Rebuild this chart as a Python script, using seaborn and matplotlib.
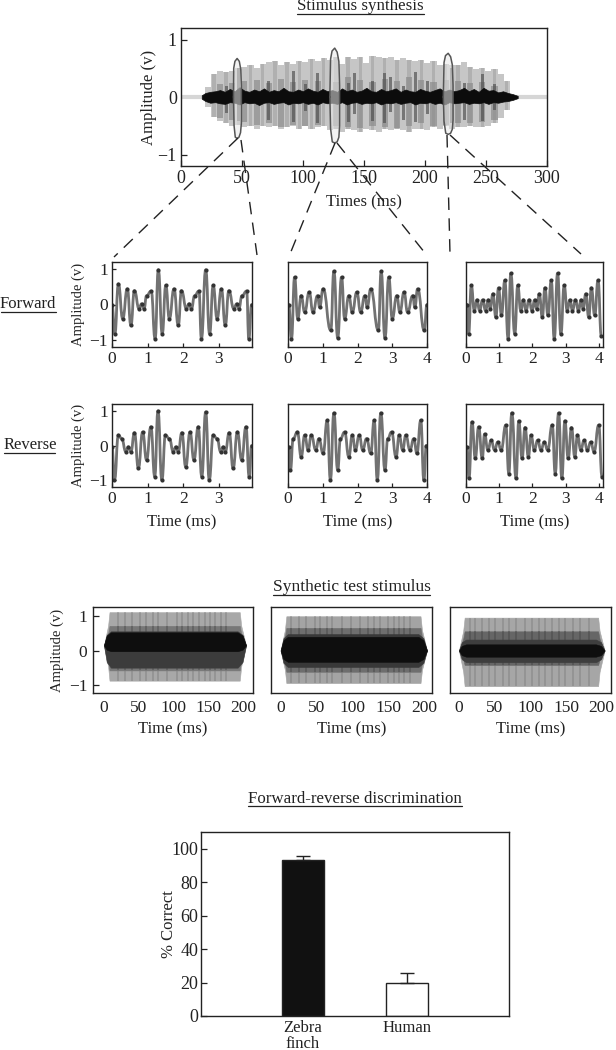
import matplotlib
matplotlib.use("Agg")
import matplotlib.pyplot as plt
from matplotlib.lines import Line2D
from matplotlib.patches import PathPatch
from matplotlib.path import Path
import seaborn as sns
import pandas as pd

sns.set_theme(style="white")
plt.rcParams['font.family'] = ['Liberation Serif', 'DejaVu Serif']
W, H = 616, 1050
INK = '#222222'

# ---- data: top recording (bars of the dense waveform, read at 5 ms steps)
top_t = [22,27,32,37,42,47,52,57,62,67,72,77,82,87,92,97,102,107,112,117,122,127,132,137,142,147,152,157,162,167,172,177,182,187,192,197,202,207,212,217,222,227,232,237,242,247,252,257,262,267]
top_up = [.18,.40,.45,.44,.46,.50,.52,.55,.50,.58,.60,.62,.55,.60,.58,.62,.60,.66,.62,.68,.65,.70,.58,.70,.66,.70,.60,.72,.70,.68,.70,.64,.68,.65,.62,.64,.60,.62,.56,.58,.56,.55,.60,.52,.48,.50,.46,.48,.40,.28]
top_lo = [-.18,-.35,-.42,-.45,-.50,-.48,-.52,-.50,-.55,-.50,-.52,-.50,-.55,-.52,-.50,-.55,-.50,-.55,-.52,-.50,-.58,-.55,-.60,-.55,-.58,-.60,-.56,-.58,-.60,-.56,-.58,-.55,-.58,-.60,-.56,-.55,-.58,-.52,-.55,-.50,-.55,-.52,-.52,-.50,-.52,-.52,-.50,-.46,-.36,-.22]
top_mid_t = [32,42,52,62,72,82,92,102,112,127,137,147,157,167,177,187,197,207,217,227,237,247,257]
top_mid_up = [.22,.24,.28,.30,.24,.32,.26,.30,.28,.26,.34,.30,.26,.32,.28,.34,.30,.26,.30,.28,.24,.26,.20]
top_mid_lo = [-.36,-.40,-.44,-.48,-.46,-.52,-.48,-.50,-.48,-.50,-.52,-.54,-.50,-.52,-.54,-.50,-.46,-.50,-.48,-.46,-.46,-.44,-.40]
top_in_t = [37,47,72,92,102,112,137,142,157,167,172,182,192,202,222,232,247,257]
top_in_up = [.20,.50,.28,.46,.22,.42,.25,.42,.28,.42,.34,.20,.44,.28,.50,.24,.40,.22]
top_in_lo = [-.28,-.42,-.40,-.44,-.24,-.46,-.44,-.30,-.42,-.46,-.26,-.40,-.44,-.30,-.46,-.40,-.42,-.22]
core_t = [17,20,24,28,32,36,40,44,48,52,56,60,64,68,72,76,80,84,88,92,96,100,104,108,112,116,120,124,128,132,136,140,144,148,152,156,160,164,168,172,176,180,184,188,192,196,200,204,208,212,216,220,224,228,232,236,240,244,248,252,256,260,264,268,272,276]
core_up = [.03,.07,.09,.10,.12,.09,.14,.10,.17,.11,.09,.13,.10,.15,.09,.12,.10,.16,.10,.09,.13,.10,.15,.11,.09,.14,.10,.12,.09,.15,.10,.13,.09,.11,.16,.10,.09,.14,.10,.12,.15,.09,.13,.10,.09,.14,.11,.09,.12,.15,.10,.13,.10,.12,.16,.10,.14,.09,.16,.11,.12,.08,.10,.07,.05,.02]
core_lo = [-.03,-.07,-.10,-.09,-.11,-.12,-.09,-.10,-.13,-.09,-.11,-.10,-.14,-.10,-.09,-.12,-.10,-.09,-.13,-.10,-.11,-.09,-.12,-.10,-.13,-.09,-.11,-.10,-.12,-.09,-.13,-.10,-.09,-.12,-.10,-.11,-.09,-.13,-.10,-.11,-.09,-.12,-.10,-.09,-.13,-.10,-.11,-.09,-.12,-.10,-.13,-.09,-.11,-.10,-.09,-.12,-.10,-.11,-.09,-.12,-.09,-.10,-.08,-.07,-.05,-.02]
baseline_t = [0, 300]
baseline_v = [0, 0]
loops_t = [[43,43.2,44.2,46,47.8,49,49.5,49.5,48.8,47.5,46,44.5,43.5,43],
           [122,122.6,123.8,126,128,129.4,130,130,129.4,128,126,124,122.6,122],
           [215,215.6,216.8,219,221,222.4,223,223,222.4,221,219,217,215.6,215]]
loops_v = [[0,.50,.62,.67,.62,.48,.2,-.45,-.62,-.70,-.72,-.70,-.50,0],
           [0,.66,.80,.85,.78,.62,.2,-.50,-.70,-.78,-.80,-.78,-.55,0],
           [0,.60,.72,.76,.70,.56,.2,-.40,-.56,-.63,-.65,-.63,-.42,0]]
top_xticks = [0, 50, 100, 150, 200, 250, 300]

# ---- data: zoomed waveforms (extrema)
f1_t = [0,.08,.18,.30,.43,.53,.63,.76,.83,.90,.97,1.10,1.21,1.30,1.41,1.51,1.61,1.74,1.86,1.95,2.09,2.16,2.23,2.32,2.44,2.51,2.63,2.74,2.84,2.95,3.07,3.18,3.28,3.42,3.50,3.56,3.65,3.78,3.84,3.92]
f1_a = [0,-.83,.58,-.40,.44,-.59,.39,-.12,.02,-.12,.25,.38,-.97,.98,-.83,.54,-.40,.44,-.59,.39,-.12,.02,-.12,.25,.38,-.97,.98,-.83,.54,-.40,.44,-.59,.39,-.12,.02,-.12,.25,.38,-.97,0]
r1_t = [0,.07,.18,.27,.39,.46,.53,.63,.74,.86,.97,1.09,1.20,1.29,1.40,1.50,1.61,1.72,1.79,1.86,1.96,2.07,2.19,2.30,2.42,2.52,2.63,2.73,2.84,2.95,3.05,3.12,3.18,3.29,3.40,3.52,3.64,3.76,3.85,3.92]
r1_a = [-.04,-1.0,.30,.20,-.18,-.04,-.18,.37,-.66,.39,-.42,.54,-.90,1.0,-1.0,.30,.20,-.18,-.04,-.18,.37,-.62,.39,-.42,.54,-.90,.97,-1.0,.30,.20,-.18,-.04,-.18,.37,-.66,.39,-.42,.54,-.90,0]
f2_t = [.02,.10,.19,.28,.38,.48,.61,.72,.85,.91,1.01,1.23,1.32,1.43,1.54,1.63,1.75,1.85,1.98,2.09,2.21,2.28,2.38,2.60,2.68,2.79,2.90,3.0,3.13,3.22,3.34,3.44,3.59,3.65,3.73,3.92,4.0]
f2_a = [0,-.97,.77,-.40,.25,-.22,.35,-.22,.25,-.08,.44,-.73,.94,-.94,.77,-.40,.25,-.22,.35,-.22,.25,-.08,.44,-.73,.94,-.94,.77,-.40,.25,-.22,.35,-.22,.25,-.08,.44,-.73,0]
r2_t = [.02,.07,.15,.27,.38,.48,.58,.67,.80,.89,1.01,1.13,1.22,1.32,1.43,1.51,1.63,1.75,1.85,1.94,2.05,2.15,2.26,2.38,2.48,2.57,2.67,2.79,2.87,2.98,3.11,3.20,3.30,3.39,3.51,3.62,3.71,3.82,3.91,3.98]
r2_a = [-.04,-.71,.20,.39,-.33,.30,-.13,.30,-.13,.20,-.23,.73,-1.0,.94,-.71,.20,.39,-.33,.30,-.13,.30,-.13,.20,-.23,.73,-1.0,.94,-.71,.20,.39,-.33,.30,-.13,.30,-.13,.20,-.23,.73,-1.0,0]
f3_t = [.03,.08,.16,.25,.33,.41,.50,.59,.67,.73,.81,.90,.98,1.07,1.17,1.27,1.35,1.47,1.56,1.65,1.73,1.81,1.90,1.99,2.07,2.13,2.21,2.30,2.38,2.47,2.57,2.66,2.76,2.86,2.96,3.05,3.13,3.21,3.30,3.39,3.47,3.53,3.61,3.70,3.78,3.88,3.98,4.08]
f3_a = [0,-.83,.54,-.17,.13,-.17,.13,-.17,.13,-.12,.30,-.36,.47,-.31,.68,-.97,.88,-.83,.54,-.17,.13,-.17,.13,-.17,.13,-.12,.30,-.36,.47,-.31,.68,-.97,.88,-.83,.54,-.17,.13,-.17,.13,-.17,.13,-.12,.30,-.36,.47,-.31,.68,-.90]
r3_t = [.03,.09,.18,.28,.38,.49,.56,.66,.76,.86,.96,1.06,1.20,1.29,1.38,1.51,1.59,1.69,1.78,1.88,1.96,2.06,2.16,2.26,2.36,2.46,2.60,2.69,2.79,2.89,2.98,3.08,3.18,3.28,3.36,3.46,3.56,3.66,3.76,3.86,4.00,4.10]
r3_a = [-.04,-.95,.68,-.37,.54,-.37,.33,-.13,.15,-.13,.10,-.13,.59,-.81,.94,-.95,.71,-.37,.52,-.33,.30,-.13,.15,-.13,.10,-.13,.59,-.81,.94,-.95,.71,-.37,.52,-.33,.30,-.13,.15,-.13,.10,-.18,.59,-.90]

# ---- data: synthetic stimuli, envelopes of tone bands (upper, lower edge, grey)
syn_outer_t = [0, 6, 8, 195, 197, 204]
syn_inner_t = [0, 4, 10, 192, 199, 204]
syn_ratio_outer = [0, .6, 1, 1, .6, 0]
syn_ratio_inner = [0, .75, 1, 1, .75, 0]
syn_bands = [
    [(1.12, -.88, '#a8a8a8'), (.72, -.58, '#777777'), (.56, -.50, '#3c3c3c'), (.53, -.02, '#0e0e0e')],
    [(1.00, -.95, '#a4a4a4'), (.66, -.62, '#6e6e6e'), (.48, -.48, '#383838'), (.40, -.33, '#0e0e0e')],
    [(.96, -1.04, '#a6a6a6'), (.56, -.42, '#666666'), (.32, -.34, '#3e3e3e'), (.18, -.18, '#0e0e0e')],
]
syn_centre = [.15, 0, 0]
stripe_t = [[20,30,40,52,60,70,78,90,105,112,120,128,136,145,152,160,168,175],
            [15,25,35,48,55,65,72,85,98,110,122,130,138,150,158,165,172,180],
            [15,22,32,42,50,62,70,80,92,102,112,120,130,140,148,160,170,182]]

# ---- data: discrimination bars
species = ['Zebra\nfinch', 'Human']
pct_correct = [93.5, 20.0]
pct_err = [2.0, 5.5]
bar_fill = ['#111111', '#ffffff']

fig = plt.figure(figsize=(W / 100, H / 100), dpi=100, facecolor='white')

def axpx(x0, x1, y0, y1):
    ax = fig.add_axes([x0 / W, 1 - y1 / H, (x1 - x0) / W, (y1 - y0) / H])
    for s in ax.spines.values():
        s.set_color(INK); s.set_linewidth(1.0); s.set_visible(True)
    ax.tick_params(direction='in', length=4, width=0.9, color=INK, labelcolor=INK, top=False, right=False, bottom=True, left=True, pad=4)
    return ax

def ftext(x, y, s, size, **kw):
    fig.text(x / W, 1 - y / H, s, fontsize=size, color=INK, ha=kw.pop('ha', 'center'), va='center', **kw)

def uline(x0, x1, y):
    fig.add_artist(Line2D([x0 / W, x1 / W], [1 - y / H, 1 - y / H], color=INK, lw=0.9))

def smooth_stroke(ax, t, a, color, lw):
    verts = [(t[0], a[0])]
    codes = [Path.MOVETO]
    for p in range(len(t) - 1):
        half = (t[p + 1] - t[p]) / 2
        verts += [(t[p] + half, a[p]), (t[p + 1] - half, a[p + 1]), (t[p + 1], a[p + 1])]
        codes += [Path.CURVE4] * 3
    ax.add_patch(PathPatch(Path(verts, codes), fill=False, edgecolor=color, lw=lw, capstyle='round', joinstyle='round'))

# top panel
ax = axpx(181, 547, 28, 166)
sns.lineplot(x=baseline_t, y=baseline_v, ax=ax, color='#d6d6d6', lw=3, estimator=None)
ax.bar(top_t, [u - l for u, l in zip(top_up, top_lo)], bottom=top_lo, width=5.0, color='#c6c6c6', lw=0)
ax.bar(top_t[1::2], [u - l for u, l in zip(top_up[1::2], top_lo[1::2])], bottom=top_lo[1::2], width=2.8, color='#b0b0b0', lw=0)
ax.bar(top_mid_t, [u - l for u, l in zip(top_mid_up, top_mid_lo)], bottom=top_mid_lo, width=5.0, color='#8c8c8c', alpha=0.7, lw=0)
ax.bar(top_in_t, [u - l for u, l in zip(top_in_up, top_in_lo)], bottom=top_in_lo, width=2.4, color='#4c4c4c', alpha=0.65, lw=0)
ax.fill_between(core_t, core_lo, core_up, color='#0c0c0c', lw=0.5, zorder=3)
for lt, lv in zip(loops_t, loops_v):
    ax.fill(lt, lv, color='#e8e8e8', alpha=0.55, lw=0, zorder=3)
    sns.lineplot(x=lt, y=lv, ax=ax, color='#555555', lw=1.1, sort=False, estimator=None, zorder=4)
ax.set_xlim(0, 300); ax.set_ylim(-1.2, 1.2)
ax.set_xticks(top_xticks); ax.set_yticks([-1, 0, 1]); ax.set_yticklabels(['\u22121', '0', '1'])
ax.tick_params(labelsize=13, pad=3)
ax.set_xlabel('Times (ms)', fontsize=12, color=INK, labelpad=5)
ax.set_ylabel('Amplitude (v)', fontsize=12, color=INK)
ax.yaxis.set_label_coords((157 - 181) / 366, .5)

# zoomed waveforms
rows = [(262, 347), (404, 487)]
cols = [(112, 252, 3.93), (288, 427, 3.98), (466, 603, 4.13)]
series = [[(f1_t, f1_a), (f2_t, f2_a), (f3_t, f3_a)], [(r1_t, r1_a), (r2_t, r2_a), (r3_t, r3_a)]]
for i, (y0, y1) in enumerate(rows):
    for j, (x0, x1, xmax) in enumerate(cols):
        ax = axpx(x0, x1, y0, y1)
        t, a = series[i][j]
        smooth_stroke(ax, t, a, '#727272', 2.0)
        sns.lineplot(x=t, y=a, ax=ax, lw=0, estimator=None, marker='o', markersize=3.0,
                     markerfacecolor='#333333', markeredgewidth=0)
        ax.set_xlim(0, xmax); ax.set_ylim(-1.2, 1.2)
        ticks = [0, 1, 2, 3] if j == 0 else [0, 1, 2, 3, 4]
        ax.set_xticks(ticks)
        ax.tick_params(labelsize=12.5, length=3, pad=3)
        if j == 0:
            ax.set_yticks([-1, 0, 1]); ax.set_yticklabels(['\u22121', '0', '1'])
            ax.set_ylabel('Amplitude (v)', fontsize=10.5, color=INK)
            ax.yaxis.set_label_coords((85 - 112) / 140, .5)
        else:
            ax.set_yticks([])
        if i == 1:
            ax.set_xlabel('Time (ms)', fontsize=12, color=INK, labelpad=5)

# synthetic stimuli
syn_axes = [(93, 253, -15.7, 214), (271, 432, -13.4, 211), (450, 611, -12.5, 213)]
for k, (x0, x1, xa, xb) in enumerate(syn_axes):
    ax = axpx(x0, x1, 607, 693)
    c = syn_centre[k]
    for n, (up, lo, grey) in enumerate(syn_bands[k]):
        edge_t = syn_outer_t if n < 2 else syn_inner_t
        ratio = syn_ratio_outer if n < 2 else syn_ratio_inner
        ax.fill_between(edge_t, [c + (lo - c) * r for r in ratio], [c + (up - c) * r for r in ratio],
                        color=grey, lw=0.4, zorder=2 + 2 * n)
        if n == 0:
            ax.vlines(stripe_t[k], lo, up, color='#6a6a6a', lw=1.4, alpha=0.3, zorder=3)
        if n == 1:
            ax.vlines(stripe_t[k], lo, up, color='#333333', lw=1.4, alpha=0.3, zorder=5)
    ax.set_xlim(xa, xb); ax.set_ylim(-1.24, 1.27)
    ax.set_xticks([0, 50, 100, 150, 200])
    ax.tick_params(labelsize=12.5, length=0, pad=5)
    if k == 0:
        ax.set_yticks([-1, 0, 1]); ax.set_yticklabels(['\u22121', '0', '1'])
        ax.tick_params(axis='y', length=4, pad=4)
        ax.set_ylabel('Amplitude (v)', fontsize=10.5, color=INK)
        ax.yaxis.set_label_coords((64 - 93) / 160, .5)
    else:
        ax.set_yticks([])
    ax.set_xlabel('Time (ms)', fontsize=12, color=INK, labelpad=4)

# bars
ax = axpx(201, 509, 832, 1016)
df = pd.DataFrame({'species': species, 'pct': pct_correct})
sns.barplot(data=df, x='species', y='pct', hue='species', palette=bar_fill, legend=False, ax=ax, width=0.4,
            edgecolor=INK, linewidth=1.0, errorbar=None)
ax.errorbar([0, 1], pct_correct, yerr=[[0, 0], pct_err], fmt='none', ecolor=INK, elinewidth=1, capsize=5, capthick=1)
ax.set_xlim(-0.98, 1.98); ax.set_ylim(0, 110)
ax.set_yticks([0, 20, 40, 60, 80, 100])
ax.tick_params(axis='y', labelsize=13, length=4, pad=2)
ax.tick_params(axis='x', labelsize=12, length=0, pad=3)
for lab in ax.get_xticklabels():
    lab.set_linespacing(0.95)
ax.set_xlabel(''); ax.set_ylabel('% Correct', fontsize=12, color=INK)
ax.yaxis.set_label_coords((177 - 201) / 308, .5)

# titles with underlines
ftext(360, 6, 'Stimulus synthesis', 12.2); uline(297, 424, 14)
ftext(28, 304, 'Forward', 12); uline(1, 56, 312)
ftext(30, 445, 'Reverse', 12); uline(4, 55, 453)
ftext(352, 587, 'Synthetic test stimulus', 12.5); uline(273, 430, 595)
ftext(355, 799, 'Forward-reverse discrimination', 12.2); uline(248, 462, 806)

# dashed zoom guides
guide_px = [((238, 138), (114, 257)), ((241, 140), (257, 255)), ((335, 143), (290, 254)),
            ((337, 143), (425, 253)), ((447, 135), (450, 254)), ((450, 135), (581, 254))]
for (xa, ya), (xb, yb) in guide_px:
    fig.add_artist(Line2D([xa / W, xb / W], [1 - ya / H, 1 - yb / H], color=INK, lw=1.0, dashes=(9, 6)))

fig.savefig('out.png', dpi=100, facecolor='white')
